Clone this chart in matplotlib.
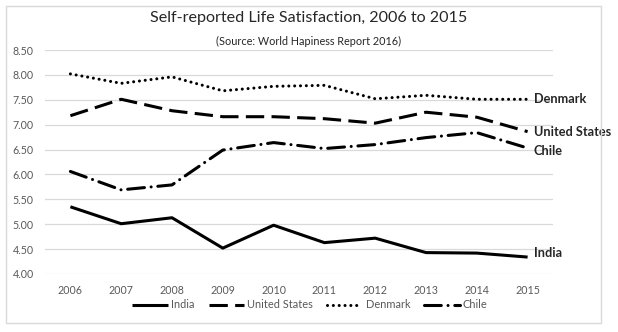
import numpy as np
import matplotlib.pyplot as plt
from matplotlib.patches import Rectangle

years = ['2006', '2007', '2008', '2009', '2010', '2011', '2012', '2013', '2014', '2015']
india = [5.35, 5.01, 5.13, 4.52, 4.98, 4.63, 4.72, 4.43, 4.42, 4.34]
usa = [7.18, 7.51, 7.28, 7.16, 7.16, 7.12, 7.03, 7.25, 7.15, 6.86]
denmark = [8.02, 7.83, 7.96, 7.68, 7.77, 7.79, 7.52, 7.59, 7.51, 7.51]
chile = [6.06, 5.69, 5.79, 6.49, 6.64, 6.52, 6.60, 6.74, 6.84, 6.53]

plt.rcParams['font.family'] = ['Lato', 'DejaVu Sans']
grey = '#595959'

fig = plt.figure(figsize=(6.18, 3.32), dpi=100)
fig.patches.append(Rectangle((6 / 618, 9 / 332), 595 / 618, 317 / 332, transform=fig.transFigure,
                             fill=False, edgecolor='#d9d9d9', linewidth=1))
ax = fig.add_axes([45 / 618, 58 / 332, 508 / 618, 224 / 332])

x = np.arange(len(years))
lw = 2.2
ax.plot(x, india, color='black', lw=lw, label='India', solid_capstyle='butt')
ax.plot(x, usa, color='black', lw=lw, ls=(0, (6, 2.4)), dash_capstyle='butt', label='United States')
ax.plot(x, denmark, color='black', lw=lw, ls=(0, (0.01, 1.9)), dash_capstyle='round', label='Denmark')
ax.plot(x, chile, color='black', lw=lw, ls=(0, (5.5, 2.2, 0.01, 2.2)), dash_capstyle='round', label='Chile')

ax.set_xlim(-0.5, len(years) - 0.5)
ax.set_ylim(4.0, 8.5)
ax.set_yticks(np.arange(4.0, 8.51, 0.5))
ax.set_yticklabels(['%.2f' % v for v in np.arange(4.0, 8.51, 0.5)])
ax.set_xticks(x)
ax.set_xticklabels(years)
ax.tick_params(length=0, colors=grey, labelsize=7.7)
ax.tick_params(axis='y', pad=8)
ax.tick_params(axis='x', pad=8)
ax.grid(axis='y', color='#d9d9d9', lw=0.9)
ax.set_axisbelow(True)
for s in ax.spines.values():
    s.set_visible(False)

# country names at the end of each line
ends = [('Denmark', denmark[-1], 0), ('United States', usa[-1], 0),
        ('Chile', chile[-1], -2), ('India', india[-1], 3)]
for name, val, dy in ends:
    ax.annotate(name, xy=(x[-1], val), xytext=(4.5, dy), textcoords='offset points',
                va='center', ha='left', fontsize=9.2, fontweight='bold', color='#262626',
                annotation_clip=False)

fig.text(0.5, 0.946, 'Self-reported Life Satisfaction, 2006 to 2015', ha='center', va='center',
         fontsize=11.6, color='#262626')
fig.text(0.5, 0.876, '(Source: World Hapiness Report 2016)', ha='center', va='center',
         fontsize=7.8, color='#262626')

fig.legend(loc='center', bbox_to_anchor=(310 / 618, 27 / 332), ncol=4, frameon=False,
           fontsize=7.9, handlelength=3.2, handletextpad=0.3, columnspacing=1.3,
           labelcolor=grey)

fig.savefig('out.png', dpi=100)
